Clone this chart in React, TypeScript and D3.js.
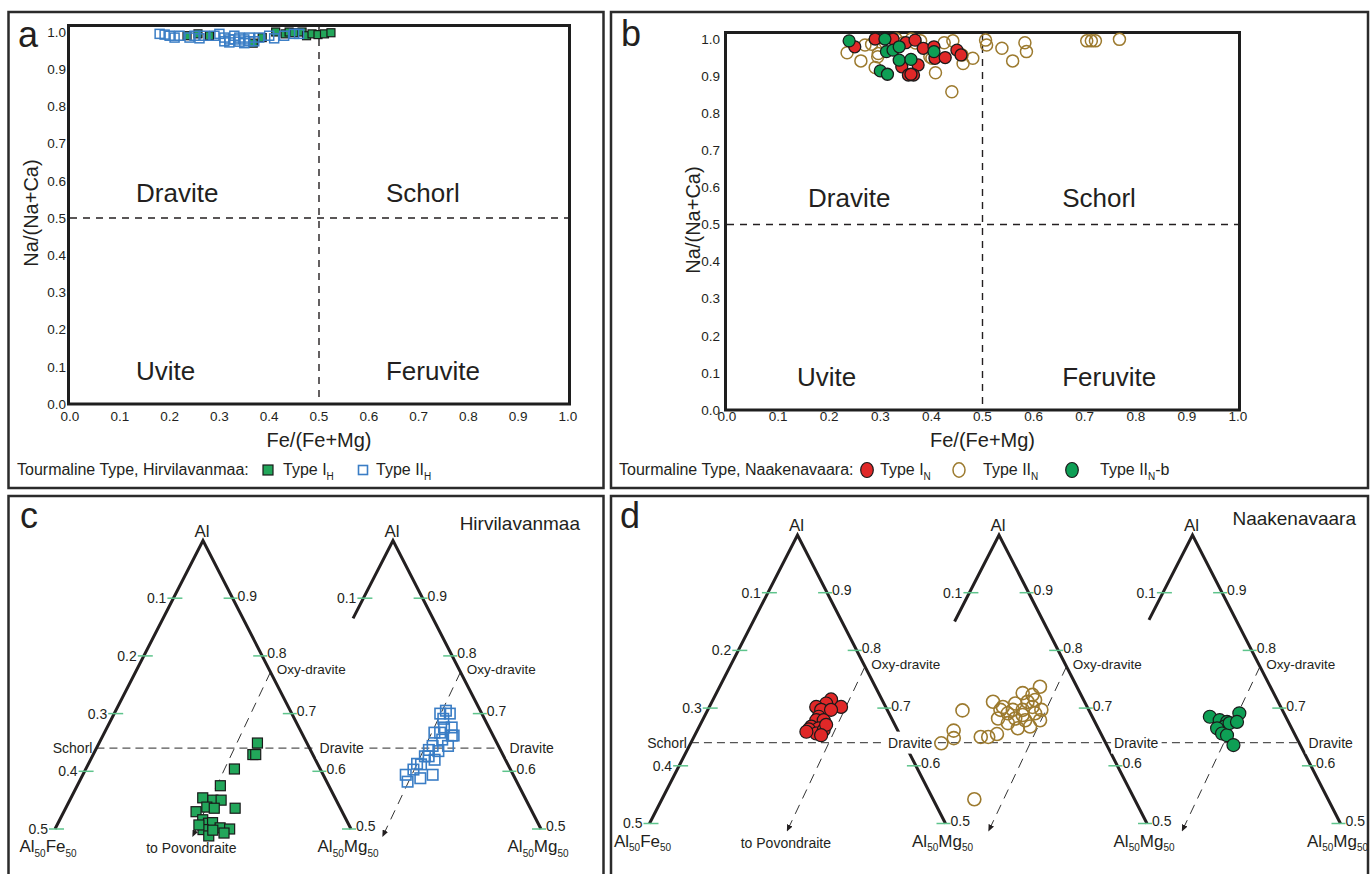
import { useEffect, useRef } from 'react'
import * as d3 from 'd3'

const FONT = '"Liberation Sans", Arial, Helvetica, sans-serif'
const INK = '#231f20'

// ---- binary plots (a, b): [Fe/(Fe+Mg), Na/(Na+Ca)] ----
const ratioTicks = [0, 0.1, 0.2, 0.3, 0.4, 0.5, 0.6, 0.7, 0.8, 0.9, 1.0]
const fieldNames = ['Dravite', 'Schorl', 'Uvite', 'Feruvite']

// Hirvilavanmaa
const hirvTypeI = [
  [0.235, 0.99], [0.257, 0.995], [0.28, 0.99], [0.368, 0.97], [0.386, 0.985], [0.413, 1.0],
  [0.432, 0.995], [0.44, 1.0], [0.45, 0.998], [0.466, 1.0], [0.475, 0.99], [0.486, 0.995],
  [0.498, 0.993], [0.511, 0.995], [0.524, 0.998],
]
const hirvTypeII = [
  [0.18, 0.995], [0.19, 0.993], [0.2, 0.99], [0.21, 0.985], [0.22, 0.99], [0.24, 0.985],
  [0.25, 0.99], [0.26, 0.983], [0.27, 0.99], [0.29, 0.99], [0.3, 0.995], [0.31, 0.985],
  [0.31, 0.975], [0.32, 0.98], [0.32, 0.972], [0.33, 0.99], [0.33, 0.98], [0.34, 0.974],
  [0.34, 0.985], [0.35, 0.98], [0.35, 0.97], [0.36, 0.985], [0.36, 0.975], [0.37, 0.975],
  [0.38, 0.985], [0.4, 0.99], [0.41, 0.983], [0.43, 0.99], [0.45, 0.995], [0.46, 0.995],
]

// Naakenavaara
const naakTypeI = [
  [0.25, 0.979], [0.29, 1.0], [0.325, 1.0], [0.35, 0.99], [0.368, 0.997], [0.384, 0.975],
  [0.405, 0.979], [0.342, 0.925], [0.374, 0.93], [0.355, 0.903], [0.365, 0.903], [0.36, 0.905],
  [0.407, 0.948], [0.427, 0.95], [0.45, 0.97], [0.458, 0.957],
]
const naakTypeII = [
  [0.235, 0.963], [0.262, 0.941], [0.27, 0.984], [0.283, 0.986], [0.29, 0.923], [0.296, 0.961],
  [0.295, 0.952], [0.31, 0.99], [0.331, 1.0], [0.345, 0.99], [0.361, 1.0], [0.369, 0.989],
  [0.379, 0.995], [0.397, 0.952], [0.401, 0.948], [0.408, 0.909], [0.425, 0.99], [0.442, 0.995],
  [0.46, 0.957], [0.462, 0.934], [0.481, 0.948], [0.44, 0.858], [0.506, 0.997], [0.508, 0.984],
  [0.538, 0.975], [0.559, 0.941], [0.583, 0.99], [0.586, 0.966], [0.704, 0.995], [0.713, 0.995],
  [0.721, 0.995], [0.768, 0.999],
]
const naakTypeIIb = [
  [0.239, 0.995], [0.309, 1.0], [0.312, 0.966], [0.325, 0.97], [0.337, 0.979], [0.337, 0.943],
  [0.36, 0.945], [0.3, 0.914], [0.314, 0.905], [0.405, 0.966],
]

// ---- ternary plots (c, d): [Al, Fe/(Fe+Mg)] in Al - Al50Fe50 - Al50Mg50 ----
const feTicks = [0.1, 0.2, 0.3, 0.4, 0.5]
const alTicks = [0.9, 0.8, 0.7, 0.6, 0.5]
const draviteAl = 0.64
const oxyDravite = [0.772, 0]
const toPovondraite = [0.486, 0.535]

const hirvTypeITern = [
  [0.649, 0.238], [0.629, 0.273], [0.629, 0.26], [0.604, 0.366], [0.575, 0.431], [0.554, 0.501],
  [0.55, 0.463], [0.55, 0.432], [0.538, 0.486], [0.536, 0.459], [0.53, 0.525], [0.536, 0.383],
  [0.516, 0.501], [0.51, 0.481], [0.511, 0.467], [0.502, 0.442], [0.5, 0.41], [0.499, 0.5],
  [0.488, 0.481], [0.493, 0.43], [0.498, 0.467], [0.507, 0.514],
]
const hirvTypeIITern = [
  [0.7, 0.234], [0.705, 0.197], [0.7, 0.18], [0.691, 0.225], [0.676, 0.194], [0.662, 0.197],
  [0.676, 0.234], [0.667, 0.29], [0.655, 0.259], [0.644, 0.312], [0.644, 0.239], [0.637, 0.333],
  [0.635, 0.29], [0.626, 0.356], [0.62, 0.315], [0.612, 0.378], [0.594, 0.335], [0.603, 0.413],
  [0.594, 0.447], [0.588, 0.388], [0.582, 0.441], [0.662, 0.206], [0.667, 0.261], [0.626, 0.339],
  [0.613, 0.395],
]
const naakTypeITern = [
  [0.715, 0.301], [0.702, 0.253], [0.708, 0.334], [0.702, 0.394], [0.697, 0.368], [0.685, 0.386],
  [0.679, 0.401], [0.679, 0.362], [0.668, 0.43], [0.665, 0.393], [0.663, 0.443], [0.656, 0.408],
  [0.662, 0.369], [0.671, 0.353], [0.653, 0.385], [0.659, 0.456], [0.697, 0.313],
]
const naakTypeIITern = [
  [0.696, 0.703], [0.661, 0.726], [0.639, 0.77], [0.648, 0.717], [0.65, 0.588], [0.65, 0.552],
  [0.655, 0.51], [0.542, 0.591], [0.711, 0.535], [0.697, 0.492], [0.691, 0.452], [0.708, 0.406],
  [0.726, 0.354], [0.723, 0.296], [0.737, 0.237], [0.702, 0.31], [0.697, 0.368], [0.682, 0.414],
  [0.679, 0.362], [0.691, 0.303], [0.697, 0.264], [0.674, 0.454], [0.665, 0.405], [0.668, 0.342],
  [0.679, 0.284], [0.702, 0.478], [0.682, 0.505], [0.697, 0.423], [0.711, 0.333], [0.714, 0.287],
  [0.688, 0.372],
]
const naakTypeIIbTern = [
  [0.685, 0.407], [0.691, 0.244], [0.679, 0.357], [0.676, 0.32], [0.668, 0.337], [0.665, 0.376],
  [0.656, 0.355], [0.653, 0.332], [0.636, 0.31], [0.674, 0.308], [0.676, 0.268],
]

const GREEN_SQ = '#22a65a'
const BLUE = '#3a7dc5'
const RED = '#e02828'
const BROWN = '#9c7a2e'
const GREEN_C = '#0e9f55'
const TICK_GREEN = '#5ec48c'

const TRI_H = 288.5
const TRI_HALF = 148

function makeTern(apexX: number, apexY: number) {
  const yS = d3.scaleLinear().domain([1, 0.5]).range([apexY, apexY + TRI_H])
  const hw = d3.scaleLinear().domain([1, 0.5]).range([0, TRI_HALF])
  return (al: number, xfe: number): [number, number] => [apexX + hw(al) * (1 - 2 * xfe), yS(al)]
}

export default function App() {
  const svgRef = useRef<SVGSVGElement>(null)

  useEffect(() => {
    if (!svgRef.current) return
    const svg = d3.select(svgRef.current)
    svg.selectAll('*').remove()

    svg.append('defs').append('marker')
      .attr('id', 'arrow')
      .attr('markerUnits', 'userSpaceOnUse')
      .attr('markerWidth', 7)
      .attr('markerHeight', 6)
      .attr('refX', 7)
      .attr('refY', 3)
      .attr('orient', 'auto')
      .append('path')
      .attr('d', 'M0,0 L7,3 L0,6 z')
      .attr('fill', INK)

    // text with subscripts: parts = [text, isSub]
    const rich = (g: any, x: number, y: number, parts: [string, boolean][], size: number, sub: number, anchor = 'start') => {
      const t = g.append('text')
        .attr('x', x).attr('y', y)
        .attr('text-anchor', anchor)
        .attr('fill', INK)
        .style('font-size', size + 'px')
      let down = false
      parts.forEach(([s, isSub]) => {
        const shift = isSub && !down ? sub * 0.45 : !isSub && down ? -sub * 0.45 : 0
        t.append('tspan').attr('dy', shift).style('font-size', (isSub ? sub : size) + 'px').text(s)
        down = isSub
      })
      return t
    }

    // panel frames
    const frames = [[8.5, 12, 595, 476], [611, 12, 757, 476], [8.5, 496, 595, 420], [611, 496, 757, 420]]
    svg.selectAll('.frame')
      .data(frames)
      .enter().append('rect')
      .attr('x', d => d[0]).attr('y', d => d[1])
      .attr('width', d => d[2]).attr('height', d => d[3])
      .attr('fill', 'none')
      .attr('stroke', '#2b2b2b')
      .attr('stroke-width', 2.5)

    const letters = [['a', 18, 47], ['b', 621, 46], ['c', 20, 528], ['d', 620, 528]]
    letters.forEach(([l, x, y]) => {
      svg.append('text').attr('x', x).attr('y', y).attr('fill', INK)
        .style('font-size', '36px').text(l as string)
    })

    // ---------- binary plots ----------
    const ratioPanel = (cfg: any) => {
      const x = d3.scaleLinear().domain([0, 1]).range([cfg.left, cfg.right])
      const y = d3.scaleLinear().domain([0, 1]).range([cfg.bottom, cfg.top])
      const g = svg.append('g')

      g.append('line')
        .attr('x1', x(0.5)).attr('x2', x(0.5))
        .attr('y1', y(1) - 6).attr('y2', y(0))
        .attr('stroke', INK).attr('stroke-width', 1.4).attr('stroke-dasharray', '7,6')
      g.append('line')
        .attr('x1', x(0)).attr('x2', x(1))
        .attr('y1', y(0.5)).attr('y2', y(0.5))
        .attr('stroke', INK).attr('stroke-width', 1.4).attr('stroke-dasharray', '7,6')

      g.append('rect')
        .attr('x', x(0) - 1.5).attr('y', y(1) - 6.5)
        .attr('width', x(1) - x(0) + 3).attr('height', y(0) - y(1) + 6.5)
        .attr('fill', 'none').attr('stroke', '#1e1e1e').attr('stroke-width', 3)

      g.selectAll('.xt').data(ratioTicks).enter().append('text')
        .attr('x', d => x(d)).attr('y', cfg.xLabelY)
        .attr('text-anchor', 'middle').attr('fill', INK)
        .style('font-size', '13.5px')
        .text(d => d.toFixed(1))
      g.selectAll('.yt').data(ratioTicks).enter().append('text')
        .attr('x', cfg.yLabelX).attr('y', d => y(d)).attr('dy', '0.35em')
        .attr('text-anchor', 'end').attr('fill', INK)
        .style('font-size', '13.5px')
        .text(d => d.toFixed(1))

      g.append('text')
        .attr('x', x(0.5)).attr('y', cfg.titleY)
        .attr('text-anchor', 'middle').attr('fill', INK)
        .style('font-size', '20px').text('Fe/(Fe+Mg)')
      g.append('text')
        .attr('transform', `translate(${cfg.yTitleX},${cfg.yTitleY}) rotate(-90)`)
        .attr('text-anchor', 'middle').attr('fill', INK)
        .style('font-size', '20px').text('Na/(Na+Ca)')

      g.selectAll('.field').data(fieldNames).enter().append('text')
        .attr('x', (d, i) => x(cfg.fields[i][0]))
        .attr('y', (d, i) => y(cfg.fields[i][1]))
        .attr('fill', INK)
        .style('font-size', '26px')
        .text(d => d)

      return { g, x, y }
    }

    const squares = (g: any, data: number[][], px: (d: number[]) => number, py: (d: number[]) => number, size: number, fill: string, stroke: string, sw: number) => {
      g.selectAll(null).data(data).enter().append('rect')
        .attr('x', (d: number[]) => px(d) - size / 2)
        .attr('y', (d: number[]) => py(d) - size / 2)
        .attr('width', size).attr('height', size)
        .attr('fill', fill).attr('stroke', stroke).attr('stroke-width', sw)
    }
    const circles = (g: any, data: number[][], px: (d: number[]) => number, py: (d: number[]) => number, r: number, fill: string, stroke: string, sw: number) => {
      g.selectAll(null).data(data).enter().append('circle')
        .attr('cx', px).attr('cy', py).attr('r', r)
        .attr('fill', fill).attr('stroke', stroke).attr('stroke-width', sw)
    }

    // panel a
    const pa = ratioPanel({
      left: 70, right: 568, top: 32, bottom: 404,
      yLabelX: 66, xLabelY: 421, titleY: 447, yTitleX: 38, yTitleY: 213,
      fields: [[0.1325, 0.543], [0.6345, 0.543], [0.1325, 0.0645], [0.6345, 0.0645]],
    })
    squares(pa.g, hirvTypeI, d => pa.x(d[0]), d => pa.y(d[1]), 8, GREEN_SQ, '#1a1a1a', 1.2)
    squares(pa.g, hirvTypeII, d => pa.x(d[0]), d => pa.y(d[1]), 9, 'none', BLUE, 1.5)

    // panel b
    const pb = ratioPanel({
      left: 727, right: 1238, top: 39, bottom: 410,
      yLabelX: 720, xLabelY: 421, titleY: 447, yTitleX: 700, yTitleY: 220,
      fields: [[0.1585, 0.547], [0.656, 0.547], [0.137, 0.065], [0.656, 0.065]],
    })
    circles(pb.g, naakTypeII, d => pb.x(d[0]), d => pb.y(d[1]), 6, 'none', BROWN, 1.5)
    circles(pb.g, naakTypeI, d => pb.x(d[0]), d => pb.y(d[1]), 6, RED, '#1a1a1a', 1.3)
    circles(pb.g, naakTypeIIb, d => pb.x(d[0]), d => pb.y(d[1]), 6, GREEN_C, '#1a1a1a', 1.3)

    // legends
    const la = svg.append('g')
    la.append('text').attr('x', 17).attr('y', 475).attr('fill', INK).style('font-size', '16px')
      .text('Tourmaline Type, Hirvilavanmaa:')
    la.append('rect').attr('x', 263).attr('y', 465).attr('width', 10).attr('height', 10)
      .attr('fill', GREEN_SQ).attr('stroke', '#1a1a1a').attr('stroke-width', 1.2)
    rich(la, 283, 475, [['Type I', false], ['H', true]], 16, 10)
    la.append('rect').attr('x', 358.5).attr('y', 465.5).attr('width', 9).attr('height', 9)
      .attr('fill', 'none').attr('stroke', BLUE).attr('stroke-width', 1.6)
    rich(la, 376, 475, [['Type II', false], ['H', true]], 16, 10)

    const lb = svg.append('g')
    lb.append('text').attr('x', 619).attr('y', 475).attr('fill', INK).style('font-size', '16px')
      .text('Tourmaline Type, Naakenavaara:')
    lb.append('ellipse').attr('cx', 867).attr('cy', 470).attr('rx', 6.3).attr('ry', 7.5)
      .attr('fill', RED).attr('stroke', '#1a1a1a').attr('stroke-width', 1.2)
    rich(lb, 880, 475, [['Type I', false], ['N', true]], 16, 10)
    lb.append('ellipse').attr('cx', 959).attr('cy', 470).attr('rx', 6).attr('ry', 7.2)
      .attr('fill', 'none').attr('stroke', BROWN).attr('stroke-width', 1.5)
    rich(lb, 983, 475, [['Type II', false], ['N', true]], 16, 10)
    lb.append('ellipse').attr('cx', 1072).attr('cy', 470).attr('rx', 6.3).attr('ry', 7.5)
      .attr('fill', GREEN_C).attr('stroke', '#1a1a1a').attr('stroke-width', 1.2)
    rich(lb, 1100, 475, [['Type II', false], ['N', true], ['-b', false]], 16, 10)

    // ---------- ternary plots ----------
    const ternPanel = (cfg: any) => {
      const g = svg.append('g')
      const projs = cfg.tris.map((t: any) => makeTern(t.ax, cfg.apexY))
      const first = projs[0]
      const last = projs[projs.length - 1]

      // Schorl - Dravite tie line
      const [lx, ly] = first(draviteAl, 1)
      const [rx] = last(draviteAl, 0)
      g.append('line').attr('x1', lx).attr('x2', rx).attr('y1', ly).attr('y2', ly)
        .attr('stroke', '#555').attr('stroke-width', 1.2).attr('stroke-dasharray', '8,5')

      cfg.tris.forEach((t: any, i: number) => {
        const p = projs[i]
        // oxy-dravite -> povondraite trend
        const [ox, oy] = p(oxyDravite[0], oxyDravite[1])
        const [vx, vy] = p(toPovondraite[0], toPovondraite[1])
        g.append('line').attr('x1', ox).attr('y1', oy).attr('x2', vx).attr('y2', vy)
          .attr('stroke', '#333').attr('stroke-width', 1).attr('stroke-dasharray', '10,7')
          .attr('marker-end', 'url(#arrow)')

        // edges
        g.append('path')
          .attr('d', d3.line()([p(t.leftStop, 1), p(1, 1), p(0.5, 0)]))
          .attr('fill', 'none').attr('stroke', INK).attr('stroke-width', 3)

        // left ticks (Fe)
        feTicks.filter(v => 1 - v >= t.leftStop - 1e-6).forEach(v => {
          const [x, y] = p(1 - v, 1)
          g.append('line').attr('x1', x - 6).attr('x2', x + 9).attr('y1', y).attr('y2', y)
            .attr('stroke', TICK_GREEN).attr('stroke-width', 1.5)
          g.append('text').attr('x', x - 7).attr('y', y).attr('dy', '0.35em')
            .attr('text-anchor', 'end').attr('fill', INK).style('font-size', '14px').text(v.toFixed(1))
        })
        // right ticks (Al)
        alTicks.forEach(v => {
          const [x, y] = p(v, 0)
          g.append('line').attr('x1', x - 9).attr('x2', x + 5).attr('y1', y).attr('y2', y)
            .attr('stroke', TICK_GREEN).attr('stroke-width', 1.5)
          g.append('text').attr('x', x + 5).attr('y', y - 2.5).attr('dy', '0.35em')
            .attr('fill', INK).style('font-size', '14px').text(v.toFixed(1))
        })

        const [ax, ay] = p(1, 0)
        g.append('text').attr('x', ax - 1).attr('y', ay - 4).attr('text-anchor', 'middle')
          .attr('fill', INK).style('font-size', '17px').text('Al')
        const [bx, by] = p(0.5, 0)
        rich(g, bx - 3, by + 23, [['Al', false], ['50', true], ['Mg', false], ['50', true]], 17, 10, 'middle')
        if (i === 0) {
          const [fx, fy] = p(0.5, 1)
          rich(g, fx - 7, fy + 23, [['Al', false], ['50', true], ['Fe', false], ['50', true]], 17, 10, 'middle')
          g.append('text').attr('x', vx - 1).attr('y', vy + 16).attr('text-anchor', 'middle')
            .attr('fill', INK).style('font-size', '14px').text('to Povondraite')
          g.append('text').attr('x', lx - 4).attr('y', ly).attr('dy', '0.35em')
            .attr('text-anchor', 'end').attr('fill', INK).style('font-size', '14px').text('Schorl')
        }
        const [kx, ky] = p(0.768, 0)
        g.append('text').attr('x', kx + 5).attr('y', ky).attr('fill', INK)
          .style('font-size', '13.5px').text('Oxy-dravite')

        // Dravite label, masking the tie line behind it
        const [dx, dy] = p(draviteAl, 0)
        const lg = g.append('g')
        const txt = lg.append('text').attr('x', dx + t.dravDx).attr('y', dy).attr('dy', '0.35em')
          .attr('fill', INK).style('font-size', '14px').text('Dravite')
        const bb = (txt.node() as SVGTextElement).getBBox()
        lg.insert('rect', 'text').attr('x', bb.x - 3).attr('y', bb.y - 3)
          .attr('width', bb.width + 6).attr('height', bb.height + 6).attr('fill', '#fff')
      })

      cfg.tris.forEach((t: any, i: number) => {
        const p = projs[i]
        const px = (d: number[]) => p(d[0], d[1])[0]
        const py = (d: number[]) => p(d[0], d[1])[1]
        if (t.mark === 'greenSq') squares(g, t.data, px, py, 10, GREEN_SQ, '#1a1a1a', 1.2)
        if (t.mark === 'blueSq') squares(g, t.data, px, py, 10.5, 'none', BLUE, 1.6)
        if (t.mark === 'red') circles(g, t.data, px, py, 6.5, RED, '#1a1a1a', 1.2)
        if (t.mark === 'brown') circles(g, t.data, px, py, 6.5, 'none', BROWN, 1.6)
        if (t.mark === 'green') circles(g, t.data, px, py, 6.5, GREEN_C, '#1a1a1a', 1.2)
      })

      g.append('text').attr('x', cfg.titleX).attr('y', cfg.titleY).attr('text-anchor', 'end')
        .attr('fill', INK).style('font-size', '19px').text(cfg.title)
    }

    ternPanel({
      apexY: 540.5, title: 'Hirvilavanmaa', titleX: 580, titleY: 530,
      tris: [
        { ax: 203, leftStop: 0.5, dravDx: 10, data: hirvTypeITern, mark: 'greenSq' },
        { ax: 393, leftStop: 0.865, dravDx: 10, data: hirvTypeIITern, mark: 'blueSq' },
      ],
    })
    ternPanel({
      apexY: 535, title: 'Naakenavaara', titleX: 1356, titleY: 525,
      tris: [
        { ax: 797.5, leftStop: 0.5, dravDx: -16, data: naakTypeITern, mark: 'red' },
        { ax: 999, leftStop: 0.85, dravDx: 8.5, data: naakTypeIITern, mark: 'brown' },
        { ax: 1192.5, leftStop: 0.853, dravDx: 9.5, data: naakTypeIIbTern, mark: 'green' },
      ],
    })
  }, [])

  return (
    <svg
      ref={svgRef}
      width={1371}
      height={874}
      style={{ position: 'absolute', left: 0, top: 0, background: '#fff', fontFamily: FONT }}
    />
  )
}
